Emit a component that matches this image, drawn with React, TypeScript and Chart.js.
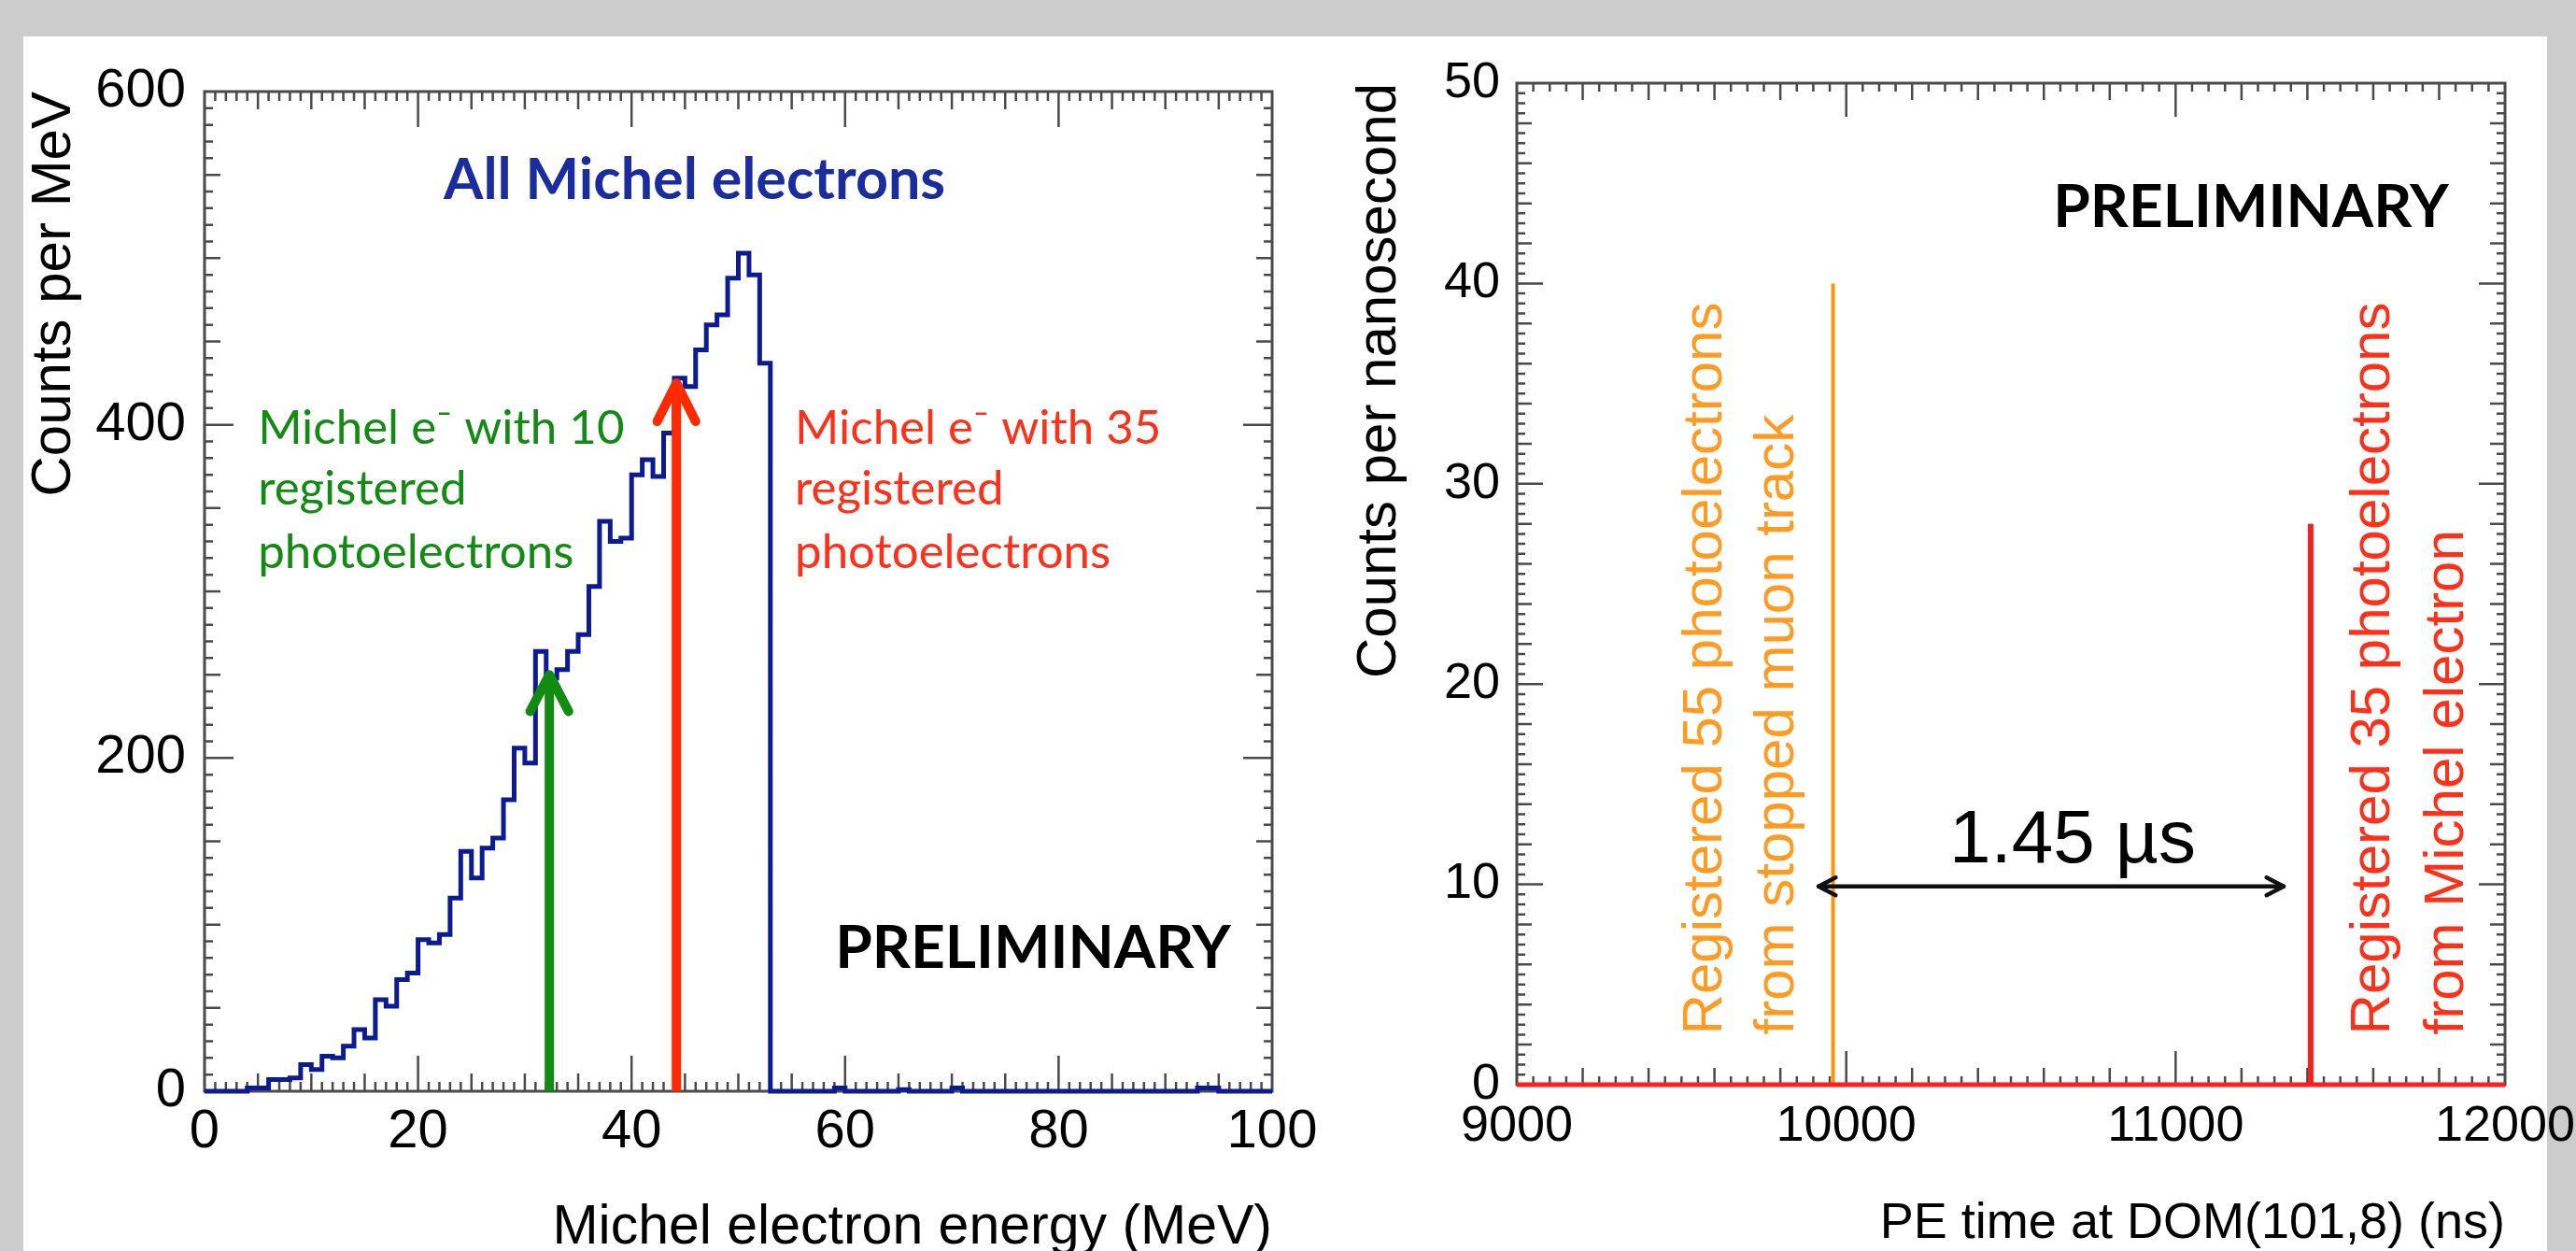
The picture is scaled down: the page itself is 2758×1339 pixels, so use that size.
import React, { useEffect, useRef } from 'react';
import { Chart, registerables } from 'chart.js';

Chart.register(...registerables);

const PAGE_W = 2758;
const PAGE_H = 1339;

// ---------------- Left panel: Michel electron energy spectrum ----------------
const energyRange = [0, 100]; // MeV
const energyBinWidth = 1; // MeV
const michelCounts = [
  0, 0, 0, 0, 2, 2, 7, 7, 8, 16,
  13, 21, 20, 27, 37, 32, 55, 51, 67, 71,
  91, 89, 94, 116, 144, 128, 146, 152, 175, 206,
  197, 264, 248, 253, 264, 274, 303, 342, 330, 332,
  370, 379, 369, 395, 428, 423, 445, 460, 466, 488,
  503, 490, 437, 0, 0, 0, 0, 0, 0, 2,
  0, 0, 0, 0, 0, 1, 0, 0, 0, 0,
  2, 0, 0, 0, 0, 0, 0, 0, 0, 0,
  0, 0, 0, 0, 0, 0, 0, 0, 0, 0,
  0, 0, 0, 2, 2, 0, 0, 0, 0, 0,
];
const countsRange = [0, 600];
const energyTickLabels = [0, 20, 40, 60, 80, 100];
const countsTickLabels = [0, 200, 400, 600];
const tenPeArrow = [32.3, 250]; // [energy, counts at tip]
const thirtyFivePeArrow = [44.2, 425];

// ---------------- Right panel: PE times at DOM(101,8) ----------------
const timeRange = [9000, 12000]; // ns
const rateRange = [0, 50];
const hitTimes = [9960, 11410]; // muon hits, Michel electron hits
const hitCounts = [40, 28];
const timeTickLabels = [9000, 10000, 11000, 12000];
const rateTickLabels = [0, 10, 20, 30, 40, 50];
const delayArrowTimes = [9916, 11328];
const delayArrowLevel = 9.9;

// ---------------- styles ----------------
const HELV = '"Liberation Sans", Arial, Helvetica, sans-serif';
const CALIBRI = 'Lato, "Open Sans", sans-serif';
const BLUE = '#0d1b93';
const GREEN = '#128b12';
const RED_ARROW = '#ff2a00';
const RED_TEXT = '#ff3019';
const ORANGE_LINE = '#ff9500';
const ORANGE_TEXT = '#ff9b22';
const RED_LINE = '#ff1e1e';

type TickSpec = { major: number; medium: number; minor: number; lens: number[] };

function tickValues(min: number, max: number, spec: TickSpec) {
  const out: { v: number; len: number }[] = [];
  const n = Math.round((max - min) / spec.minor);
  const isMult = (v: number, s: number) => Math.abs(v / s - Math.round(v / s)) < 1e-6;
  for (let i = 1; i < n; i++) {
    const v = min + i * spec.minor;
    const len = isMult(v, spec.major) ? spec.lens[0] : isMult(v, spec.medium) ? spec.lens[1] : spec.lens[2];
    out.push({ v, len });
  }
  return out;
}

function makeFramePlugin(xSpec: TickSpec, ySpec: TickSpec) {
  return {
    id: 'rootFrame',
    beforeDatasetsDraw(chart: any) {
      const { ctx, chartArea: a } = chart;
      const xs = chart.scales.x;
      const ys = chart.scales.y;
      ctx.save();
      ctx.strokeStyle = '#4a4a4a';
      ctx.lineWidth = 2.5;
      ctx.beginPath();
      for (const { v, len } of tickValues(xs.min, xs.max, xSpec)) {
        const p = xs.getPixelForValue(v);
        ctx.moveTo(p, a.bottom);
        ctx.lineTo(p, a.bottom - len);
        ctx.moveTo(p, a.top);
        ctx.lineTo(p, a.top + len);
      }
      for (const { v, len } of tickValues(ys.min, ys.max, ySpec)) {
        const p = ys.getPixelForValue(v);
        ctx.moveTo(a.left, p);
        ctx.lineTo(a.left + len, p);
        ctx.moveTo(a.right, p);
        ctx.lineTo(a.right - len, p);
      }
      ctx.stroke();
      ctx.lineWidth = 3;
      ctx.strokeRect(a.left, a.top, a.right - a.left, a.bottom - a.top);
      ctx.restore();
    },
  };
}

type Label = { text: string; x: number; y: number; color: string; font: string; align?: CanvasTextAlign; rotation?: number };

function makeTextPlugin(labels: Label[]) {
  return {
    id: 'panelText',
    afterDatasetsDraw(chart: any) {
      const { ctx } = chart;
      const xs = chart.scales.x;
      const ys = chart.scales.y;
      for (const l of labels) {
        ctx.save();
        ctx.translate(xs.getPixelForValue(l.x), ys.getPixelForValue(l.y));
        if (l.rotation) ctx.rotate((l.rotation * Math.PI) / 180);
        ctx.font = l.font;
        ctx.fillStyle = l.color;
        ctx.textAlign = l.align || 'left';
        ctx.textBaseline = 'alphabetic';
        ctx.fillText(l.text, 0, 0);
        ctx.restore();
      }
    },
  };
}

function axis(p: {
  range: number[]; ticks: number[]; tickSize: number; tickPad: number;
  title: string; titleSize: number; titlePad: any; fitSize: number; horizontal: boolean;
}) {
  return {
    type: 'linear',
    min: p.range[0],
    max: p.range[1],
    afterBuildTicks: (s: any) => {
      s.ticks = p.ticks.map((v) => ({ value: v }));
    },
    afterFit: (s: any) => {
      if (p.horizontal) {
        s.height = p.fitSize;
        s.paddingLeft = 0;
        s.paddingRight = 0;
      } else {
        s.width = p.fitSize;
        s.paddingTop = 0;
        s.paddingBottom = 0;
      }
    },
    grid: { display: false, drawTicks: false },
    border: { display: false },
    ticks: {
      autoSkip: false,
      maxRotation: 0,
      minRotation: 0,
      padding: p.tickPad,
      color: '#000',
      font: { family: HELV, size: p.tickSize, lineHeight: 1 },
      callback: (v: any) => String(v),
    },
    title: {
      display: true,
      text: p.title,
      align: 'end',
      color: '#000',
      font: { family: HELV, size: p.titleSize, lineHeight: 1 },
      padding: p.titlePad,
    },
  };
}

function line(data: { x: number; y: number }[], color: string, width: number, extra: any = {}) {
  return {
    type: 'line',
    data,
    borderColor: color,
    backgroundColor: color,
    borderWidth: width,
    pointRadius: 0,
    fill: false,
    tension: 0,
    clip: false,
    borderCapStyle: 'round',
    borderJoinStyle: 'round',
    ...extra,
  };
}

// vertical arrow head (pointing up) at tip
function upHead(tipX: number, tipY: number, dx: number, dy: number) {
  return [
    { x: tipX - dx, y: tipY - dy },
    { x: tipX, y: tipY },
    { x: tipX + dx, y: tipY - dy },
  ];
}

// horizontal arrow head; dir = -1 points left, +1 points right
function sideHead(tipX: number, tipY: number, dx: number, dy: number, dir: number) {
  return [
    { x: tipX - dir * dx, y: tipY + dy },
    { x: tipX, y: tipY },
    { x: tipX - dir * dx, y: tipY - dy },
  ];
}

function buildLeft(canvas: HTMLCanvasElement) {
  const histo = michelCounts.map((c, i) => ({ x: energyRange[0] + i * energyBinWidth, y: c }));
  histo.push({ x: energyRange[0] + michelCounts.length * energyBinWidth, y: michelCounts[michelCounts.length - 1] });

  const labels: Label[] = [
    { text: 'All Michel electrons', x: 45.9, y: 535.5, color: '#1b2d9e', font: `bold 61px ${CALIBRI}`, align: 'center' },
    { text: 'Michel e\u207B with 10', x: 5.0, y: 388.6, color: GREEN, font: `51px ${CALIBRI}` },
    { text: 'registered', x: 5.0, y: 352, color: GREEN, font: `51px ${CALIBRI}` },
    { text: 'photoelectrons', x: 5.0, y: 314, color: GREEN, font: `51px ${CALIBRI}` },
    { text: 'Michel e\u207B with 35', x: 55.3, y: 388.6, color: RED_TEXT, font: `51px ${CALIBRI}` },
    { text: 'registered', x: 55.3, y: 352, color: RED_TEXT, font: `51px ${CALIBRI}` },
    { text: 'photoelectrons', x: 55.3, y: 314, color: RED_TEXT, font: `51px ${CALIBRI}` },
    { text: 'PRELIMINARY', x: 77.6, y: 74, color: '#000', font: `bold 64px ${CALIBRI}`, align: 'center' },
  ];

  return new Chart(canvas, {
    type: 'line',
    data: {
      datasets: [
        line(upHead(tenPeArrow[0], tenPeArrow[1], 1.8, 22), GREEN, 10),
        line([{ x: tenPeArrow[0], y: 0 }, { x: tenPeArrow[0], y: tenPeArrow[1] - 2 }], GREEN, 10, { borderCapStyle: 'butt' }),
        line(upHead(thirtyFivePeArrow[0], thirtyFivePeArrow[1], 1.8, 23), RED_ARROW, 10),
        line([{ x: thirtyFivePeArrow[0], y: 0 }, { x: thirtyFivePeArrow[0], y: thirtyFivePeArrow[1] - 2 }], RED_ARROW, 10, { borderCapStyle: 'butt' }),
        line(histo, BLUE, 5, { stepped: 'before', borderCapStyle: 'butt', borderJoinStyle: 'miter' }),
      ] as any,
    },
    options: {
      responsive: false,
      animation: false,
      events: [],
      layout: { padding: { left: 0, top: 98, right: PAGE_W - 1362, bottom: 0 } },
      plugins: { legend: { display: false }, tooltip: { enabled: false } },
      scales: {
        x: axis({
          range: energyRange, ticks: energyTickLabels, tickSize: 58, tickPad: 15,
          title: 'Michel electron energy (MeV)', titleSize: 59, titlePad: { top: 0, bottom: -5 },
          fitSize: PAGE_H - 1168, horizontal: true,
        }),
        y: axis({
          range: countsRange, ticks: countsTickLabels, tickSize: 58, tickPad: 20,
          title: 'Counts per MeV', titleSize: 60, titlePad: { top: 28, bottom: 0 },
          fitSize: 219, horizontal: false,
        }),
      } as any,
    },
    plugins: [
      makeFramePlugin({ major: 20, medium: 5, minor: 1, lens: [38, 19, 10] }, { major: 200, medium: 50, minor: 10, lens: [31, 17, 9] }),
      makeTextPlugin(labels),
    ],
  } as any);
}

function buildRight(canvas: HTMLCanvasElement) {
  const [muonT, michelT] = hitTimes;
  const [muonC, michelC] = hitCounts;
  const labels: Label[] = [
    { text: 'PRELIMINARY', x: 11228.7, y: 42.8, color: '#000', font: `bold 64px ${CALIBRI}`, align: 'center' },
    { text: '1.45 \u00B5s', x: 10687, y: 11.1, color: '#000', font: `80px ${HELV}`, align: 'center' },
    { text: 'Registered 55 photoelectrons', x: 9621, y: 2.5, color: ORANGE_TEXT, font: `60px ${HELV}`, rotation: -90 },
    { text: 'from stopped muon track', x: 9839, y: 2.5, color: ORANGE_TEXT, font: `60px ${HELV}`, rotation: -90 },
    { text: 'Registered 35 photoelectrons', x: 11648, y: 2.5, color: RED_TEXT, font: `60px ${HELV}`, rotation: -90 },
    { text: 'from Michel electron', x: 11872, y: 2.5, color: RED_TEXT, font: `60px ${HELV}`, rotation: -90 },
  ];
  return new Chart(canvas, {
    type: 'line',
    data: {
      datasets: [
        line(sideHead(delayArrowTimes[0], delayArrowLevel, 52, 0.44, -1), '#111', 4.5),
        line(sideHead(delayArrowTimes[1], delayArrowLevel, 52, 0.44, 1), '#111', 4.5),
        line([{ x: delayArrowTimes[0], y: delayArrowLevel }, { x: delayArrowTimes[1], y: delayArrowLevel }], '#111', 4.5),
        line([{ x: timeRange[0], y: 0 }, { x: timeRange[1], y: 0 }], RED_LINE, 5, { borderCapStyle: 'butt' }),
        line([{ x: michelT, y: 0 }, { x: michelT, y: michelC }], RED_LINE, 6, { borderCapStyle: 'butt' }),
        line([{ x: muonT, y: 0 }, { x: muonT, y: muonC }], ORANGE_LINE, 4, { borderCapStyle: 'butt' }),
      ] as any,
    },
    options: {
      responsive: false,
      animation: false,
      events: [],
      layout: { padding: { left: 1440, top: 89, right: PAGE_W - 2682, bottom: 0 } },
      plugins: { legend: { display: false }, tooltip: { enabled: false } },
      scales: {
        x: axis({
          range: timeRange, ticks: timeTickLabels, tickSize: 54, tickPad: 18,
          title: 'PE time at DOM(101,8) (ns)', titleSize: 54, titlePad: { top: 0, bottom: 2 },
          fitSize: PAGE_H - 1161, horizontal: true,
        }),
        y: axis({
          range: rateRange, ticks: rateTickLabels, tickSize: 54, tickPad: 18,
          title: 'Counts per nanosecond', titleSize: 60, titlePad: { top: 7, bottom: 0 },
          fitSize: 1624 - 1440, horizontal: false,
        }),
      } as any,
    },
    plugins: [
      makeFramePlugin({ major: 1000, medium: 200, minor: 50, lens: [36, 18, 9] }, { major: 10, medium: 2, minor: 0.5, lens: [28, 16, 9] }),
      makeTextPlugin(labels),
    ],
  } as any);
}

export default function App() {
  const leftRef = useRef<HTMLCanvasElement>(null);
  const rightRef = useRef<HTMLCanvasElement>(null);

  useEffect(() => {
    const l = buildLeft(leftRef.current!);
    const r = buildRight(rightRef.current!);
    return () => {
      l.destroy();
      r.destroy();
    };
  }, []);

  const canvasStyle: React.CSSProperties = { position: 'absolute', left: 0, top: 0, width: PAGE_W, height: PAGE_H };
  return (
    <div style={{ position: 'fixed', left: 0, top: 0, width: PAGE_W, height: PAGE_H, overflow: 'hidden', background: '#cccccc' }}>
      <div style={{ position: 'absolute', left: 25, top: 39, width: 2727 - 25, height: PAGE_H - 39, background: '#ffffff' }} />
      <canvas ref={leftRef} width={PAGE_W} height={PAGE_H} style={canvasStyle} />
      <canvas ref={rightRef} width={PAGE_W} height={PAGE_H} style={canvasStyle} />
    </div>
  );
}
